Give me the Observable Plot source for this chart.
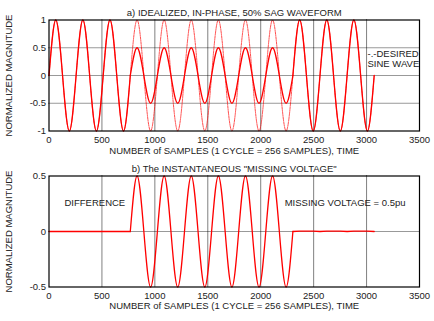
<!DOCTYPE html>
<html><head><meta charset="utf-8">
<script src="https://cdn.jsdelivr.net/npm/d3@7"></script>
<script src="https://cdn.jsdelivr.net/npm/@observablehq/plot@0.6"></script>
<style>body{margin:0;background:#fff} svg{display:block} #chart{width:434px}</style>
</head><body><div id="chart"></div>
<script>
// Quarter-cycle sample points (1 cycle = 256 samples)
const sampleIdx = [0,64,128,192,256,320,384,448,512,576,640,704,768,832,896,960,1024,1088,1152,1216,1280,1344,1408,1472,1536,1600,1664,1728,1792,1856,1920,1984,2048,2112,2176,2240,2304,2368,2432,2496,2560,2624,2688,2752,2816,2880,2944,3008,3072];
const actualWave = [0,1,0,-1, 0,1,0,-1, 0,1,0,-1,
  0,0.5,0,-0.5, 0,0.5,0,-0.5, 0,0.5,0,-0.5, 0,0.5,0,-0.5, 0,0.5,0,-0.5, 0,0.5,0,-0.5,
  0,1,0,-1, 0,1,0,-1, 0,1,0,-1, 0];
const desiredWave = [0,1,0,-1, 0,1,0,-1, 0,1,0,-1, 0,1,0,-1, 0,1,0,-1, 0,1,0,-1,
  0,1,0,-1, 0,1,0,-1, 0,1,0,-1, 0,1,0,-1, 0,1,0,-1, 0,1,0,-1, 0];
const missingVoltage = [0,0,0,0, 0,0,0,0, 0,0,0,0,
  0,0.5,0,-0.5, 0,0.5,0,-0.5, 0,0.5,0,-0.5, 0,0.5,0,-0.5, 0,0.5,0,-0.5, 0,0.5,0,-0.5,
  0,0.004,0.004,0.004, 0,0.004,0.004,0.004, 0,0.004,0.004,0.004, 0];
const sagStart = 768, sagEnd = 2304;

const xTicks = [0,500,1000,1500,2000,2500,3000,3500];
const xGrid = [500,1000,1500,2000,2500,3000];
const yTicksTop = [-1,-0.5,0,0.5,1];
const yGridTop = [-0.5,0,0.5];
const yTicksBottom = [-0.5,0,0.5];
const yGridBottom = [0];

const titleTop = "a) IDEALIZED, IN-PHASE, 50% SAG WAVEFORM";
const titleBottom = "b) The INSTANTANEOUS \"MISSING VOLTAGE\"";
const xLabel = "NUMBER of SAMPLES (1 CYCLE = 256 SAMPLES), TIME";
const yLabel = "NORMALIZED MAGNITUDE";
const desiredNote = ["-.-DESIRED", "SINE WAVE"];
const diffNote = "DIFFERENCE";
const missingNote = "MISSING VOLTAGE = 0.5pu";

function segmented(values) {
  const rows = [];
  sampleIdx.forEach((x, i) => {
    const y = values[i];
    if (x <= sagStart) rows.push({x, y, seg: "pre"});
    if (x >= sagStart && x <= sagEnd) rows.push({x, y, seg: "sag"});
    if (x >= sagEnd) rows.push({x, y, seg: "post"});
  });
  return rows;
}
const actualRows = segmented(actualWave);
const desiredRows = sampleIdx.map((x, i) => ({x, y: desiredWave[i]}));
const missingRows = segmented(missingVoltage);

const font = "'Liberation Sans', Arial, sans-serif";
const RED = "#ff0000";

function common(yTicks, yGrid, xLabelDy) {
  return [
    Plot.ruleX(xGrid, {stroke: "#000", strokeDasharray: "1,1", strokeOpacity: 1}),
    Plot.ruleY(yGrid, {stroke: "#000", strokeDasharray: "1,1", strokeOpacity: 0.8}),
    Plot.axisX({ticks: xTicks, tickSize: 0, tickPadding: 5, tickFormat: d => String(d), label: null, fontSize: 9.5, fill: "#222"}),
    Plot.axisY({ticks: yTicks, tickSize: 0, tickPadding: 3, tickFormat: d => String(d), label: null, fontSize: 9.5, fill: "#222"}),
    Plot.text([xLabel], {frameAnchor: "bottom", dy: xLabelDy, fontSize: 9.5, fill: "#222"}),
    Plot.text([yLabel], {frameAnchor: "left", textAnchor: "middle", rotate: -90, dx: -40.5, fontSize: 9.5, fill: "#222"})
  ];
}

const chartTop = Plot.plot({
  width: 434, height: 160,
  marginLeft: 48.5, marginRight: 15, marginTop: 19.5, marginBottom: 29.5,
  style: {fontFamily: font, fontSize: "9.5px", background: "white", overflow: "visible"},
  x: {domain: [0, 3500]},
  y: {domain: [-1, 1]},
  marks: [
    ...common(yTicksTop, yGridTop, 22.5),
    Plot.line(desiredRows, {x: "x", y: "y", curve: "natural", stroke: RED, strokeWidth: 1, strokeDasharray: "1.5,1", strokeOpacity: 0.7}),
    Plot.line(actualRows, {x: "x", y: "y", z: "seg", curve: "natural", stroke: RED, strokeWidth: 1.3}),
    Plot.text([titleTop], {frameAnchor: "top", dy: -10.5, fontSize: 9.5, fill: "#222"}),
    Plot.text([desiredNote.join("\n")], {frameAnchor: "top-right", dx: -52, dy: 38.5, textAnchor: "start", lineAnchor: "middle", fontSize: 9.5, fill: "#222", lineHeight: 1.1}),
    Plot.frame({stroke: "#000", strokeWidth: 1.2})
  ]
});

const chartBottom = Plot.plot({
  width: 434, height: 161,
  marginLeft: 48.5, marginRight: 15, marginTop: 15.5, marginBottom: 34.5,
  style: {fontFamily: font, fontSize: "9.5px", background: "white", overflow: "visible"},
  x: {domain: [0, 3500]},
  y: {domain: [-0.5, 0.5]},
  marks: [
    ...common(yTicksBottom, yGridBottom, 21.5),
    Plot.line(missingRows.filter(d => d.seg !== "sag"), {x: "x", y: "y", z: "seg", curve: "linear", stroke: RED, strokeWidth: 1.3}),
    Plot.line(missingRows.filter(d => d.seg === "sag"), {x: "x", y: "y", curve: "natural", stroke: RED, strokeWidth: 1.3}),
    Plot.text([titleBottom], {frameAnchor: "top", dy: -11, fontSize: 9.5, fill: "#222"}),
    Plot.text([diffNote], {frameAnchor: "top-left", dx: 15.5, dy: 23, textAnchor: "start", fontSize: 9.5, fill: "#222"}),
    Plot.text([missingNote], {frameAnchor: "top-right", dx: -14, dy: 23, textAnchor: "end", fontSize: 9.5, fill: "#222"}),
    Plot.frame({stroke: "#000", strokeWidth: 1.2})
  ]
});

document.getElementById("chart").append(chartTop, chartBottom);
</script>
</body></html>
